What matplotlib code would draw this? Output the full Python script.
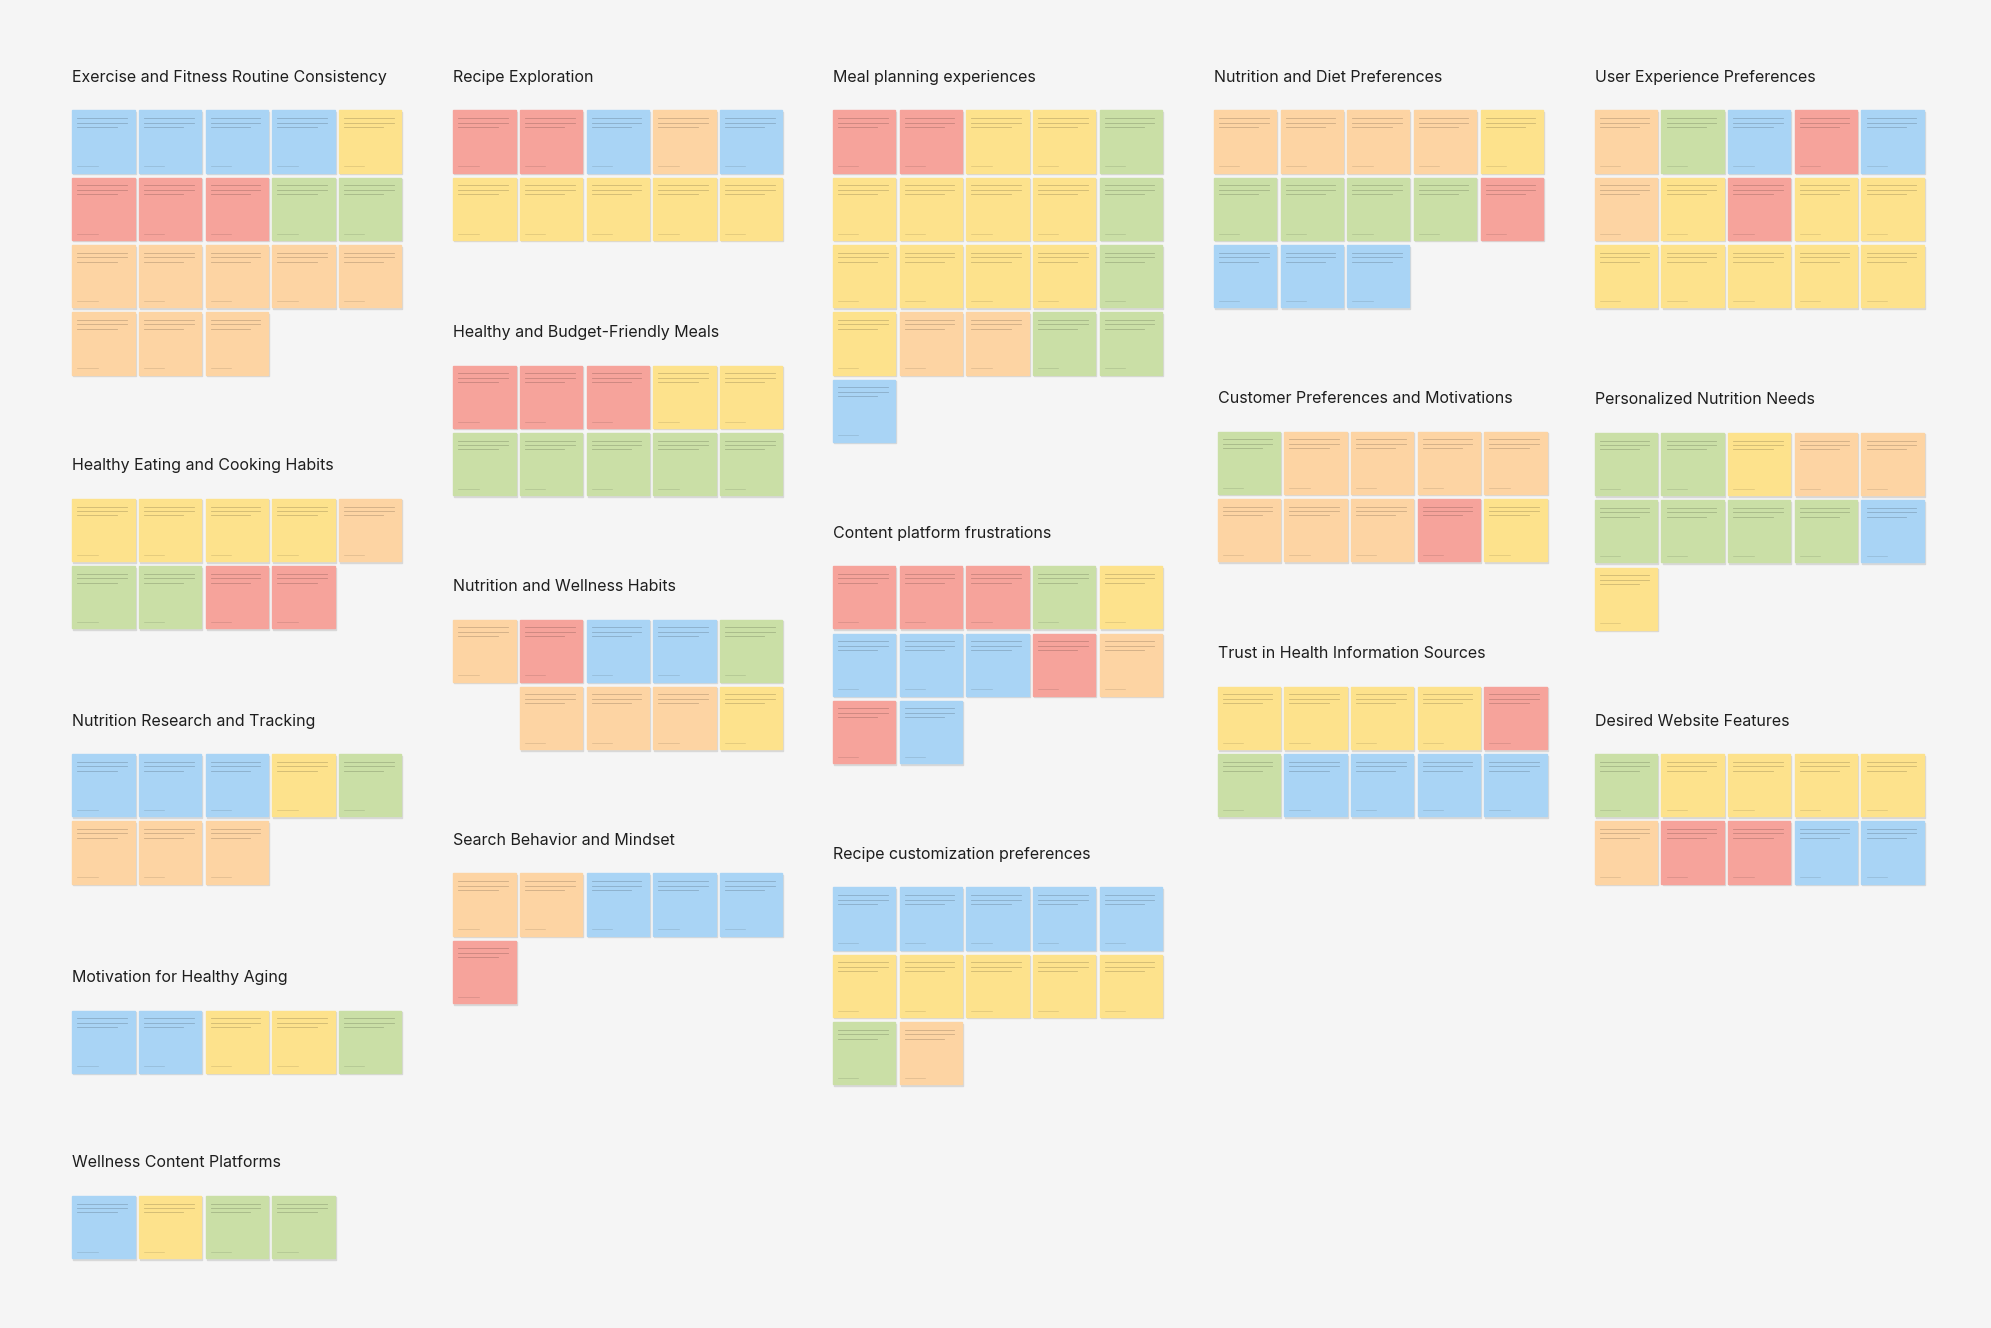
import matplotlib.pyplot as plt
from matplotlib.patches import Rectangle

# sticky-note colours
C = {'b': '#a9d4f5', 'r': '#f6a39b', 'y': '#fde28c', 'o': '#fdd4a3', 'g': '#cadfa6'}

titles = [
    "Exercise and Fitness Routine Consistency", "Healthy Eating and Cooking Habits",
    "Nutrition Research and Tracking", "Motivation for Healthy Aging", "Wellness Content Platforms",
    "Recipe Exploration", "Healthy and Budget-Friendly Meals", "Nutrition and Wellness Habits",
    "Search Behavior and Mindset",
    "Meal planning experiences", "Content platform frustrations", "Recipe customization preferences",
    "Nutrition and Diet Preferences", "Customer Preferences and Motivations",
    "Trust in Health Information Sources",
    "User Experience Preferences", "Personalized Nutrition Needs", "Desired Website Features",
]
title_x = [57, 57, 57, 57, 57, 357, 357, 357, 357, 656, 656, 656, 956, 959, 959, 1256, 1256, 1256]
title_y = [61, 367, 568, 770, 916, 61, 262, 462, 662, 61, 420, 673, 61, 314, 515, 61, 315, 568]
# note colours, one string per row ('.' = empty slot)
notes = [
    ["bbbby", "rrrgg", "ooooo", "ooo"],
    ["yyyyo", "ggrr"],
    ["bbbyg", "ooo"],
    ["bbyyg"],
    ["bygg"],
    ["rrbob", "yyyyy"],
    ["rrryy", "ggggg"],
    ["orbbg", ".oooy"],
    ["oobbb", "r"],
    ["rryyg", "yyyyg", "yyyyg", "yoogg", "b"],
    ["rrrgy", "bbbro", "rb"],
    ["bbbbb", "yyyyy", "go"],
    ["ooooy", "ggggr", "bbb"],
    ["gooooy"[:5], "ooory"],
    ["yyyyr", "gbbbb"],
    ["ogbrb", "oyryy", "yyyyy"],
    ["ggyoo", "ggggb", "y"],
    ["gyyyy", "orrbb"],
]

W, H = 1568, 1046
fig = plt.figure(figsize=(19.91, 13.28), dpi=100)
fig.patch.set_facecolor('#f5f5f5')
ax = fig.add_axes([0, 0, 1, 1])
ax.set_xlim(0, W)
ax.set_ylim(H, 0)
ax.axis('off')

size, step_x, step_y = 49, 52.5, 53
for t, tx, ty, rows in zip(titles, title_x, title_y, notes):
    ax.text(tx, ty, t, fontsize=11.5, color='#1e1e1e', va='center', ha='left', family='Inter')
    for r, row in enumerate(rows):
        for c, k in enumerate(row):
            if k == '.':
                continue
            x = tx + c * step_x
            y = ty + 26 + r * step_y
            ax.add_patch(Rectangle((x + 0.8, y + 1.2), size, size, color='#d8d8d8', zorder=1))
            ax.add_patch(Rectangle((x, y), size, size, color=C[k], zorder=2))
            for i in range(3):
                ax.plot([x + 4, x + size - 6 - 8 * (i == 2)], [y + 6 + 3.5 * i] * 2,
                        color='#00000030', lw=0.6, zorder=3)
            ax.plot([x + 4, x + 20], [y + size - 5] * 2, color='#00000022', lw=0.5, zorder=3)

fig.savefig('out.png', dpi=100, facecolor=fig.get_facecolor())
